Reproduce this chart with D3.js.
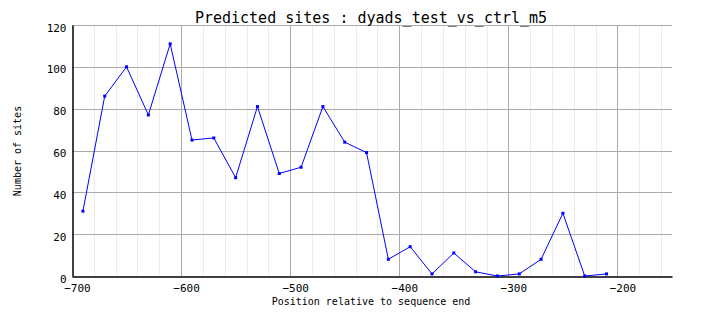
<!DOCTYPE html>
<html>
<head>
<meta charset="utf-8">
<script src="https://cdn.jsdelivr.net/npm/d3@7"></script>
<style>
  body { margin: 0; background: #fff; }
  text { font-family: "DejaVu Sans Mono", monospace; fill: #000; }
</style>
</head>
<body>
<script>
// chart size
let width = 704, height = 328
let margin = {top: 25, right: 32, bottom: 52, left: 72}

// data
let positions = [-690, -670, -650, -630, -610, -590, -570, -550, -530, -510,
                 -490, -470, -450, -430, -410, -390, -370, -350, -330, -310,
                 -290, -270, -250, -230, -210]
let sites = [31, 86, 100, 77, 111, 65, 66, 47, 81, 49,
             52, 81, 64, 59, 8, 14, 1, 11, 2, 0,
             1, 8, 30, 0, 1]
let xTicks = [-700, -600, -500, -400, -300, -200]
let yTicks = [0, 20, 40, 60, 80, 100, 120]

let points = positions.map((p, i) => ({x: p, y: sites[i]}))

let x = d3.scaleLinear().domain([-700, -150]).range([margin.left, width - margin.right])
let y = d3.scaleLinear().domain([0, 120]).range([height - margin.bottom, margin.top])

let svg = d3.select("body").append("svg")
    .attr("width", width)
    .attr("height", height)

// minor vertical grid every 20
svg.append("g")
    .selectAll("line")
    .data(d3.range(-680, -150, 20).filter(v => v % 100 !== 0))
    .join("line")
    .attr("x1", d => Math.round(x(d)) + 0.5).attr("x2", d => Math.round(x(d)) + 0.5)
    .attr("y1", y(120)).attr("y2", y(0))
    .attr("stroke", "#ececec")

// major grid
svg.append("g")
    .selectAll("line")
    .data(xTicks.slice(1))
    .join("line")
    .attr("x1", d => Math.round(x(d)) + 0.5).attr("x2", d => Math.round(x(d)) + 0.5)
    .attr("y1", y(120)).attr("y2", y(0))
    .attr("stroke", "#aaa")

svg.append("g")
    .selectAll("line")
    .data(yTicks.slice(1))
    .join("line")
    .attr("x1", x(-700)).attr("x2", x(-150))
    .attr("y1", d => Math.round(y(d)) + 0.5).attr("y2", d => Math.round(y(d)) + 0.5)
    .attr("stroke", "#aaa")

// axes, no tick marks, only labels
let xAxis = d3.axisBottom(x).tickValues(xTicks).tickSize(0).tickPadding(8)
    .tickFormat(d => d3.format("d")(d).replace("-", "\u2212"))
let yAxis = d3.axisLeft(y).tickValues(yTicks).tickSize(0).tickPadding(6)

let gx = svg.append("g")
    .attr("transform", `translate(0,${Math.round(y(0)) + 0.5})`)
    .call(xAxis)
gx.select(".domain").attr("stroke", "#000").attr("stroke-width", 1.5)
gx.selectAll("text").attr("font-size", 11).attr("font-family", "DejaVu Sans Mono")
    .attr("dx", 5)

let gy = svg.append("g")
    .attr("transform", `translate(${x(-700) + 0.5},0)`)
    .call(yAxis)
gy.select(".domain").attr("stroke", "#000").attr("stroke-width", 1.5)
gy.selectAll("text").attr("font-size", 11).attr("font-family", "DejaVu Sans Mono")
    .attr("dy", "0.55em")

// the data line
let line = d3.line().x(d => x(d.x)).y(d => y(d.y))

svg.append("path")
    .datum(points)
    .attr("d", line)
    .attr("fill", "none")
    .attr("stroke", "#0000ff")
    .attr("stroke-width", 1)

svg.append("g")
    .selectAll("rect")
    .data(points)
    .join("rect")
    .attr("x", d => x(d.x) - 1.5)
    .attr("y", d => y(d.y) - 1.5)
    .attr("width", 3)
    .attr("height", 3)
    .attr("fill", "#0000ff")

// title and axis labels
svg.append("text")
    .attr("x", 371).attr("y", 23)
    .attr("text-anchor", "middle")
    .attr("font-size", 15)
    .text("Predicted sites : dyads_test_vs_ctrl_m5")

svg.append("text")
    .attr("x", 371).attr("y", 305)
    .attr("text-anchor", "middle")
    .attr("font-size", 10)
    .text("Position relative to sequence end")

svg.append("text")
    .attr("transform", "translate(21,151) rotate(-90)")
    .attr("text-anchor", "middle")
    .attr("font-size", 10)
    .text("Number of sites")
</script>
</body>
</html>
